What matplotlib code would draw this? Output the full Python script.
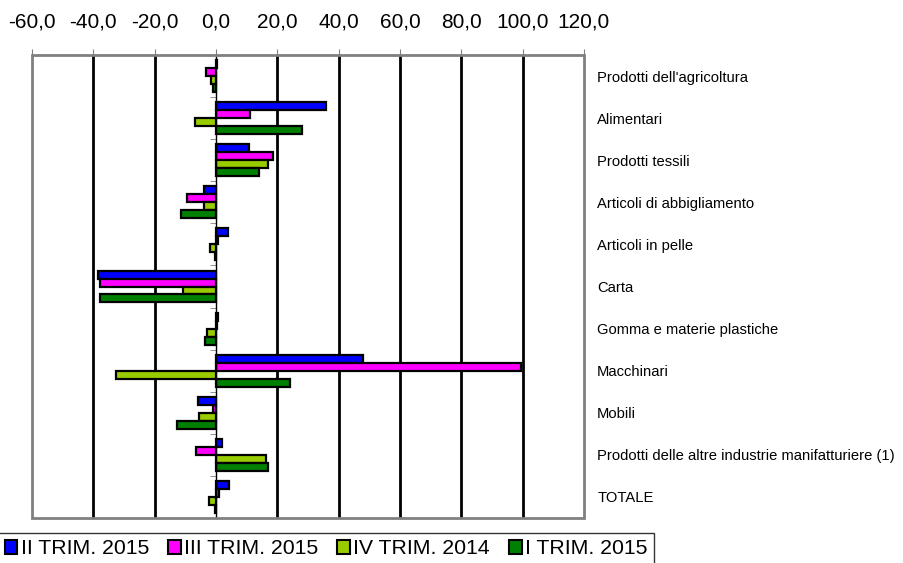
import numpy as np
import matplotlib.pyplot as plt
from matplotlib.patches import Patch, Rectangle

plt.rcParams['font.family'] = ['Liberation Sans', 'DejaVu Sans']

categories = ["Prodotti dell'agricoltura", "Alimentari", "Prodotti tessili",
              "Articoli di abbigliamento", "Articoli in pelle", "Carta",
              "Gomma e materie plastiche", "Macchinari", "Mobili",
              "Prodotti delle altre industrie manifatturiere (1)", "TOTALE"]

series_labels = ["II TRIM. 2015", "III TRIM. 2015", "IV TRIM. 2014", "I TRIM. 2015"]
ii_trim_2015 = [0.3, 36.0, 10.7, -3.8, 4.0, -38.4, 0.8, 48.0, -5.9, 1.9, 4.4]
iii_trim_2015 = [-3.2, 11.1, 18.6, -9.3, 0.5, -37.8, 0.2, 99.4, -1.1, -6.4, 1.1]
iv_trim_2014 = [-1.6, -6.8, 16.8, -4.0, -2.0, -10.9, -2.8, -32.5, -5.7, 16.2, -2.2]
i_trim_2015 = [-1.0, 27.9, 13.9, -11.5, -0.4, -37.8, -3.7, 24.1, -12.8, 17.0, -0.3]

colors = ["#0000FF", "#FF00FF", "#99CC00", "#008000"]
xticks = list(range(-60, 121, 20))

fig = plt.figure(figsize=(9.04, 5.63), dpi=100)
ax = fig.add_axes([32 / 904, 1 - 518 / 563, 552 / 904, 463 / 563])

ys = np.arange(len(categories))
h = 0.19
all_series = [ii_trim_2015, iii_trim_2015, iv_trim_2014, i_trim_2015]
for i, (vals, col) in enumerate(zip(all_series, colors)):
    ax.barh(ys + (i - 1.5) * h, vals, height=h, color=col,
            edgecolor="black", linewidth=1.6, zorder=3)

# vertical gridlines (inner ticks only, the zero line is the axis)
inner = [t for t in xticks if t not in (xticks[0], xticks[-1], 0)]
ax.vlines(inner, 0, 1, transform=ax.get_xaxis_transform(),
          color="black", linewidth=2, zorder=1)

ax.set_xlim(-60, 120)
ax.set_ylim(len(categories) - 0.5, -0.5)
ax.xaxis.tick_top()
ax.set_xticks(xticks)
ax.set_xticklabels([f"{t:.1f}".replace(".", ",") for t in xticks], fontsize=15)
ax.tick_params(axis="x", direction="out", length=4, color="grey", pad=13)

# zero axis with category boundary ticks
for s in ["top", "right", "bottom"]:
    ax.spines[s].set_visible(False)
ax.spines["left"].set_position(("data", 0))
ax.spines["left"].set_color("black")
ax.spines["left"].set_linewidth(1)
ax.spines["left"].set_zorder(4)

ax.set_yticks(ys)
ax.set_yticklabels(categories, fontsize=10.6)
ax.set_yticks(np.arange(-0.5, len(categories), 1), minor=True)
ax.tick_params(axis="y", which="major", left=False, right=False, length=0,
               labelleft=False, labelright=True, pad=9.5)
ax.tick_params(axis="y", which="minor", left=True, right=False,
               length=4, color="grey")
for lbl in ax.get_yticklabels():
    lbl.set_verticalalignment("center_baseline")

ax.add_patch(Rectangle((0, 0), 1, 1, transform=ax.transAxes, fill=False,
                       edgecolor="#808080", linewidth=2, clip_on=False, zorder=5))

handles = [Patch(facecolor=c, edgecolor="black", linewidth=1.5) for c in colors]
leg = fig.legend(handles, series_labels, ncol=4, loc="upper left",
                 bbox_to_anchor=(-0.002, 1 - 533 / 563), fontsize=15.3,
                 frameon=True, fancybox=False, edgecolor="black",
                 handlelength=0.6, handleheight=0.6, handletextpad=0.15,
                 columnspacing=0.9, borderpad=0.3, borderaxespad=0)
leg.get_frame().set_linewidth(1)

fig.savefig("out.png", dpi=100)
